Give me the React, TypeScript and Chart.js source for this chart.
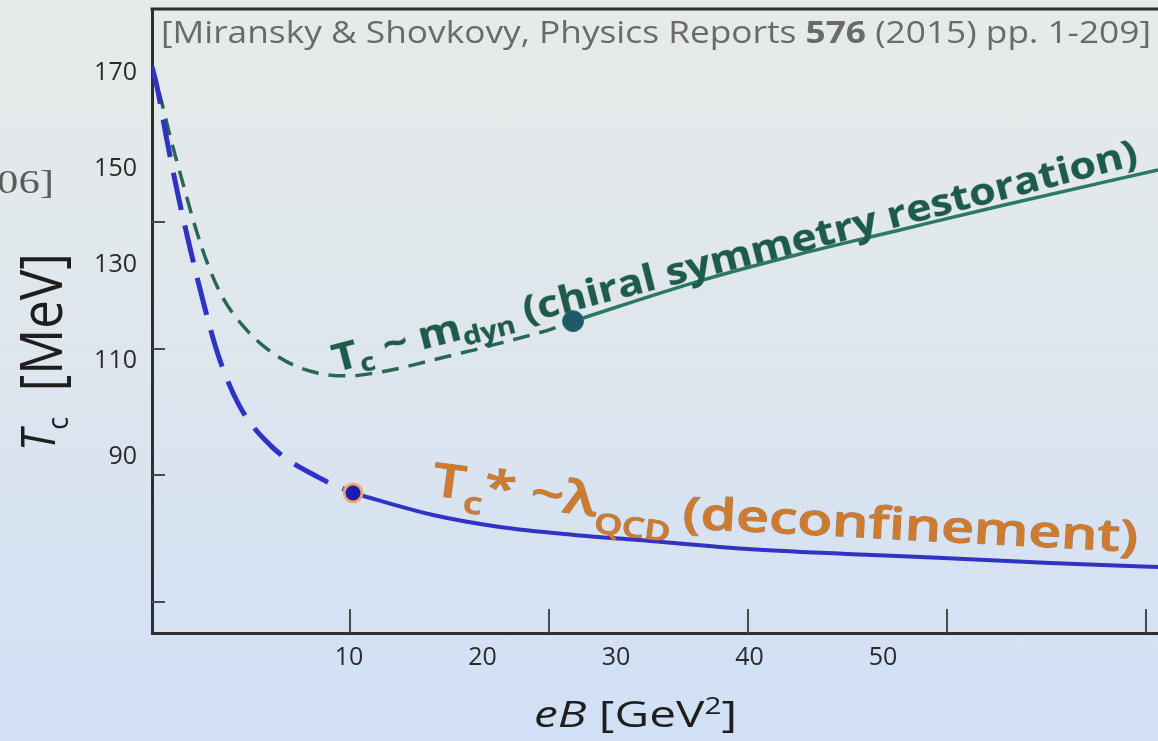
import React, { useEffect, useRef } from 'react';
import { Chart, registerables } from 'chart.js';

Chart.register(...registerables);

const W = 1158;
const H = 741;

// Axis ranges: eB [GeV^2] and Tc [MeV]
const X_MIN = -4.76;
const X_MAX = 70.6;
const Y_MIN = 53.33;
const Y_MAX = 183.33;

// tick labels and (independent) tick marks as printed on the figure
const xTickLabels = [10, 20, 30, 40, 50];
const yTickLabels = [90, 110, 130, 150, 170];
const xTickMarks = [10.1, 25.0, 39.9, 54.8, 69.7];
const yTickMarks = [59.8, 86.25, 112.5, 139.0];

// deconfinement curve Tc* (blue)
const deconfDashedEB = [-4.76, -4.38, -3.63, -2.81, -1.91, -0.92, 0.19, 1.76, 4.23, 7.68, 10.3];
const deconfDashedT = [171.3, 167.1, 155.8, 144.6, 133.5, 122.3, 111.3, 100.8, 92.1, 85.8, 82.5];
const deconfSolidEB = [10.3, 16.3, 21.3, 26.9, 32.6, 39.6, 47.3, 54.1, 62.5, 70.6];
const deconfSolidT = [82.5, 77.9, 75.4, 73.75, 72.5, 70.9, 69.8, 69.0, 67.9, 67.1];
const deconfDotEB = [10.3];
const deconfDotT = [82.5];

// chiral restoration curve Tc (green)
const chiralDashedEB = [-4.76, -4.08, -3.33, -2.43, -1.54, -0.56, 0.56, 2.06, 3.86, 5.96, 7.98, 10.07, 11.95, 13.82, 15.69, 17.79, 19.66, 21.69, 23.63, 25.21, 26.78];
const chiralDashedT = [171.4, 164.4, 156.0, 146.9, 138.1, 130.0, 123.1, 117.3, 112.5, 109.0, 107.3, 106.9, 107.5, 108.5, 109.8, 111.25, 112.5, 114.0, 115.4, 116.7, 118.3];
const chiralSolidEB = [26.78, 36.29, 43.78, 51.27, 58.76, 70.6];
const chiralSolidT = [118.3, 126.7, 132.3, 137.3, 142.3, 149.8];
const chiralDotEB = [26.78];
const chiralDotT = [118.3];

const toPts = (xs: number[], ys: number[]) => xs.map((x, i) => ({ x, y: ys[i] }));

type Seg = { t: string; size: number; weight?: number; italic?: boolean; dy?: number; gap?: number; family?: string };

const OPEN = "'Open Sans', sans-serif";
const SERIF = "'Liberation Serif', serif";

function fontOf(s: Seg) {
  return `${s.italic ? 'italic ' : ''}${s.weight ?? 400} ${s.size}px ${s.family ?? OPEN}`;
}

function drawRich(
  ctx: CanvasRenderingContext2D,
  segs: Seg[],
  x: number,
  y: number,
  angleDeg: number,
  target: number,
  style: { fill: string | CanvasGradient; stroke?: string; strokeW?: number; sy?: number }
) {
  ctx.save();
  const ws = segs.map((s) => {
    ctx.font = fontOf(s);
    return ctx.measureText(s.t).width;
  });
  const total = ws.reduce((a, b, i) => a + b + (segs[i].gap ?? 0), 0);
  const sx = target > 0 ? target / total : 1;
  ctx.translate(x, y);
  ctx.rotate((angleDeg * Math.PI) / 180);
  ctx.scale(sx, style.sy ?? 1);
  ctx.textAlign = 'left';
  ctx.textBaseline = 'alphabetic';
  let cx = 0;
  segs.forEach((s, i) => {
    cx += s.gap ?? 0;
    ctx.font = fontOf(s);
    if (style.stroke) {
      ctx.strokeStyle = style.stroke;
      ctx.lineWidth = style.strokeW ?? 1;
      ctx.lineJoin = 'round';
      ctx.strokeText(s.t, cx, s.dy ?? 0);
    }
    ctx.fillStyle = style.fill;
    ctx.fillText(s.t, cx, s.dy ?? 0);
    cx += ws[i];
  });
  ctx.restore();
}

const decorPlugin = {
  id: 'decor',
  afterDraw(chart: any) {
    const { ctx, chartArea: a, scales } = chart;
    const xs = scales.x;
    const ys = scales.y;
    ctx.save();

    // top frame line
    ctx.strokeStyle = '#2e2e2e';
    ctx.lineWidth = 3;
    ctx.beginPath();
    ctx.moveTo(a.left - 1.5, a.top);
    ctx.lineTo(a.right, a.top);
    ctx.stroke();

    // inward tick marks
    ctx.strokeStyle = '#4a4a4a';
    ctx.lineWidth = 2;
    xTickMarks.forEach((v) => {
      const px = Math.round(xs.getPixelForValue(v));
      ctx.beginPath();
      ctx.moveTo(px, a.bottom);
      ctx.lineTo(px, a.bottom - 24);
      ctx.stroke();
    });
    yTickMarks.forEach((v) => {
      const py = Math.round(ys.getPixelForValue(v));
      ctx.beginPath();
      ctx.moveTo(a.left, py);
      ctx.lineTo(a.left + 13, py);
      ctx.stroke();
    });

    // citation
    drawRich(
      ctx,
      [
        { t: '[Miransky & Shovkovy, Physics Reports ', size: 31 },
        { t: '576', size: 31, weight: 700 },
        { t: ' (2015) pp. 1-209]', size: 31 },
      ],
      a.left + 9,
      43,
      0,
      990,
      { fill: '#6a6a6a' }
    );

    // cut-off serif text at the far left
    drawRich(ctx, [{ t: '06]', size: 34, family: SERIF }], -3, 193, 0, 57, { fill: '#5c5c5c' });

    // y axis title
    drawRich(
      ctx,
      [
        { t: 'T', size: 40, italic: true, dy: -6 },
        { t: 'c', size: 25, dy: 5 },
        { t: '[MeV]', size: 48, gap: 24 },
      ],
      62,
      451,
      -90,
      198,
      { fill: '#1e1e1e', sy: 1.2 }
    );

    // x axis title
    drawRich(
      ctx,
      [
        { t: 'eB', size: 37, italic: true },
        { t: ' [GeV', size: 37 },
        { t: '2', size: 23, dy: -13 },
        { t: ']', size: 37 },
      ],
      534,
      727,
      0,
      203,
      { fill: '#1e1e1e' }
    );

    // chiral label (green)
    drawRich(
      ctx,
      [
        { t: 'T', size: 38, weight: 700 },
        { t: 'c', size: 25, weight: 700, dy: 7 },
        { t: ' ~ ', size: 38, weight: 700 },
        { t: 'm', size: 38, weight: 700 },
        { t: 'dyn', size: 25, weight: 700, dy: 7 },
        { t: ' (chiral symmetry restoration)', size: 37, weight: 700 },
      ],
      336,
      372,
      -14.5,
      830,
      { fill: '#1d5c4a', stroke: 'rgba(20,60,45,0.3)', strokeW: 0.8 }
    );

    // deconfinement label (orange)
    const grad = ctx.createLinearGradient(0, 455, 0, 560);
    grad.addColorStop(0, '#d27a28');
    grad.addColorStop(0.55, '#c0641a');
    grad.addColorStop(1, '#9f4c0d');
    drawRich(
      ctx,
      [
        { t: 'T', size: 46, weight: 600 },
        { t: 'c', size: 30, weight: 600, dy: 13 },
        { t: '* ', size: 46, weight: 600 },
        { t: '~', size: 46, weight: 600 },
        { t: 'λ', size: 46, weight: 600 },
        { t: 'QCD', size: 28, weight: 600, dy: 16 },
      ],
      431,
      495,
      7.4,
      242,
      { fill: grad, stroke: 'rgba(95,45,8,0.55)', strokeW: 1 }
    );
    drawRich(
      ctx,
      [{ t: '(deconfinement)', size: 44, weight: 600 }],
      682,
      528,
      3.0,
      456,
      { fill: grad, stroke: 'rgba(95,45,8,0.55)', strokeW: 1 }
    );

    ctx.restore();
  },
};

const zeroPad = (s: any) => {
  s.paddingTop = 0;
  s.paddingBottom = 0;
  s.paddingLeft = 0;
  s.paddingRight = 0;
};

export default function App() {
  const ref = useRef<HTMLCanvasElement>(null);

  useEffect(() => {
    const prev = document.body.style.margin;
    document.body.style.margin = '0';
    const canvas = ref.current!;
    const lineBase = { pointRadius: 0, cubicInterpolationMode: 'monotone' as const, fill: false, order: 1 };
    const chart = new Chart(canvas, {
      type: 'line',
      data: {
        datasets: [
          {
            label: 'deconf dot',
            data: toPts(deconfDotEB, deconfDotT),
            showLine: false,
            pointRadius: 9,
            pointBackgroundColor: '#1a1db0',
            pointBorderColor: 'rgba(240,172,105,0.95)',
            pointBorderWidth: 3,
            order: 0,
          },
          {
            label: 'chiral dot',
            data: toPts(chiralDotEB, chiralDotT),
            showLine: false,
            pointRadius: 10.5,
            pointBackgroundColor: '#1f5a6b',
            pointBorderColor: '#2b6776',
            pointBorderWidth: 1,
            order: 0,
          },
          {
            ...lineBase,
            label: 'deconf dashed',
            data: toPts(deconfDashedEB, deconfDashedT),
            borderColor: '#2f31cc',
            borderWidth: 5,
            borderDash: [38, 16],
          },
          {
            ...lineBase,
            label: 'deconf solid',
            data: toPts(deconfSolidEB, deconfSolidT),
            borderColor: '#3133c2',
            borderWidth: 4,
          },
          {
            ...lineBase,
            label: 'chiral dashed',
            data: toPts(chiralDashedEB, chiralDashedT),
            borderColor: '#2a6753',
            borderWidth: 3.5,
            borderDash: [17, 10],
          },
          {
            ...lineBase,
            label: 'chiral solid',
            data: toPts(chiralSolidEB, chiralSolidT),
            borderColor: '#2b7a60',
            borderWidth: 3.5,
          },
        ],
      },
      options: {
        responsive: false,
        animation: false,
        devicePixelRatio: 1,
        events: [],
        layout: { autoPadding: false, padding: { top: 9, left: 0, right: 0, bottom: 0 } },
        plugins: { legend: { display: false }, tooltip: { enabled: false } },
        scales: {
          x: {
            type: 'linear',
            position: 'bottom',
            min: X_MIN,
            max: X_MAX,
            afterBuildTicks: (s: any) => {
              s.ticks = xTickLabels.map((v) => ({ value: v }));
            },
            afterFit: (s: any) => {
              s.height = 108;
              zeroPad(s);
            },
            grid: { display: false, drawTicks: false },
            border: { display: true, color: '#2e2e2e', width: 3 },
            ticks: {
              color: '#2a2a2a',
              font: { family: OPEN, size: 25 },
              padding: 10,
              maxRotation: 0,
              autoSkip: false,
              callback: (v: any) => String(v),
            },
          },
          y: {
            type: 'linear',
            position: 'left',
            min: Y_MIN,
            max: Y_MAX,
            afterBuildTicks: (s: any) => {
              s.ticks = yTickLabels.map((v) => ({ value: v }));
            },
            afterFit: (s: any) => {
              s.width = 152;
              zeroPad(s);
            },
            grid: { display: false, drawTicks: false },
            border: { display: true, color: '#2e2e2e', width: 3 },
            ticks: {
              color: '#2a2a2a',
              font: { family: OPEN, size: 25 },
              padding: 15,
              autoSkip: false,
              callback: (v: any) => String(v),
            },
          },
        },
      },
      plugins: [decorPlugin],
    } as any);
    return () => {
      chart.destroy();
      document.body.style.margin = prev;
    };
  }, []);

  return (
    <div
      style={{
        position: 'relative',
        width: W,
        height: H,
        overflow: 'hidden',
        background: 'linear-gradient(to bottom, #e6ebe9 0%, #e0e7ec 40%, #d8e3f1 70%, #d1e0f6 100%)',
      }}
    >
      <canvas ref={ref} width={W} height={H} style={{ display: 'block', width: W, height: H }} />
    </div>
  );
}
